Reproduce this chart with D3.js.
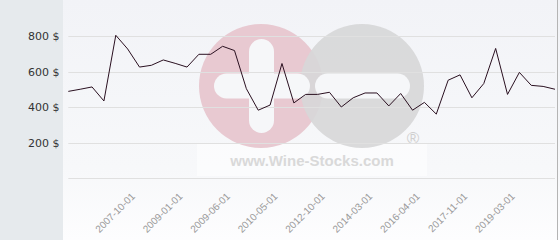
<!DOCTYPE html>
<html><head><meta charset="utf-8">
<script src="https://cdn.jsdelivr.net/npm/d3@7"></script>
<style>
html,body{margin:0;padding:0;background:#fff;}
svg{display:block;}
</style></head>
<body>
<svg id="chart" width="560" height="240"></svg>
<script>
const categories = ["2005-06-01","2005-11-01","2006-04-01","2006-09-01","2007-02-01","2007-06-01","2007-10-01","2008-01-01","2008-05-01","2008-09-01","2009-01-01","2009-02-01","2009-03-01","2009-05-01","2009-06-01","2009-09-01","2009-12-01","2010-03-01","2010-05-01","2011-01-01","2011-06-01","2012-01-01","2012-10-01","2013-02-01","2013-06-01","2013-10-01","2014-03-01","2014-09-01","2015-03-01","2015-09-01","2016-04-01","2016-09-01","2017-02-01","2017-06-01","2017-11-01","2018-03-01","2018-07-01","2018-11-01","2019-03-01","2019-07-01","2019-11-01","2020-03-01"];
const prices = [488,500,513,434,804,727,625,635,665,646,625,697,697,742,718,503,382,411,645,423,471,471,483,400,452,479,479,406,476,382,426,360,551,581,452,532,730,471,595,522,516,500];
const xTickLabels = ["2007-10-01","2009-01-01","2009-06-01","2010-05-01","2012-10-01","2014-03-01","2016-04-01","2017-11-01","2019-03-01"];
const yGridValues = [0,200,400,600,800];
const yTickLabels = [200,400,600,800];
const yDomain = [0,1000];

const svg = d3.select("#chart");
const W = 560, H = 240;
const panelX = 63, plotL = 68.3, plotR = 555, plotTop = 0.5, plotBottom = 178;

const defs = svg.append("defs");
const grad = defs.append("linearGradient").attr("id","bg").attr("x1",0).attr("y1",0).attr("x2",0).attr("y2",1);
grad.append("stop").attr("offset","0%").attr("stop-color","#f2f3f7");
grad.append("stop").attr("offset","70%").attr("stop-color","#f7f8fa");
grad.append("stop").attr("offset","100%").attr("stop-color","#fdfdfe");

svg.append("rect").attr("x",0).attr("y",0).attr("width",panelX).attr("height",H).attr("fill","#e6eaed");
svg.append("rect").attr("x",panelX).attr("y",0).attr("width",W-panelX).attr("height",H).attr("fill","url(#bg)");

// watermark
const wm = svg.append("g");
wm.append("rect").attr("x",197).attr("y",143).attr("width",230).attr("height",33).attr("fill","#ffffff").attr("opacity",0.55);
wm.append("circle").attr("cx",261).attr("cy",86).attr("r",62).attr("fill","#e8c9d1");
wm.append("circle").attr("cx",362).attr("cy",86).attr("r",62).attr("fill","#d7d7d8").attr("opacity",0.92);
const white = "#f6f7f9";
wm.append("rect").attr("x",249).attr("y",39).attr("width",25).attr("height",94).attr("rx",12.5).attr("fill",white);
wm.append("rect").attr("x",214).attr("y",73.5).attr("width",96).attr("height",25).attr("rx",12.5).attr("fill",white);
wm.append("rect").attr("x",315).attr("y",73.5).attr("width",95).attr("height",25).attr("rx",12.5).attr("fill",white);
wm.append("text").attr("x",312).attr("y",165.5).attr("text-anchor","middle")
  .attr("font-family","Liberation Sans, Arial, sans-serif").attr("font-weight","bold").attr("font-size",15)
  .attr("fill","#d9d9d9").text("www.Wine-Stocks.com");
wm.append("text").attr("x",413).attr("y",144).attr("text-anchor","middle")
  .attr("font-family","Liberation Sans, Arial, sans-serif").attr("font-size",17)
  .attr("fill","#cfcfcf").text("®");

const x = d3.scalePoint().domain(categories).range([plotL, plotR]);
const y = d3.scaleLinear().domain(yDomain).range([plotBottom, plotTop]);

// gridlines
svg.append("g").selectAll("line").data(yGridValues).join("line")
  .attr("x1",plotL).attr("x2",plotR)
  .attr("y1",d=>Math.round(y(d))+0.5).attr("y2",d=>Math.round(y(d))+0.5)
  .attr("stroke","#e0e0e0").attr("stroke-width",1);

// y axis
const yAxis = d3.axisLeft(y).tickValues(yTickLabels).tickSize(0).tickPadding(0).tickFormat(d=>d+" $");
const gy = svg.append("g").attr("transform","translate(59.5,0)").call(yAxis);
gy.select(".domain").remove();
gy.selectAll("text").attr("font-family","DejaVu Sans, sans-serif").attr("font-size",11).attr("fill","#333").attr("dy","0.35em");

// x axis
const xAxis = d3.axisBottom(x).tickValues(xTickLabels).tickSize(0).tickPadding(0);
const gx = svg.append("g").attr("transform","translate(0,0)").call(xAxis);
gx.select(".domain").remove();
gx.selectAll(".tick text")
  .attr("font-family","Liberation Sans, Arial, sans-serif").attr("font-size",10).attr("fill","#999")
  .attr("text-anchor","end").attr("y",0).attr("dy",0)
  .attr("transform",function(){ return "translate(-4.4,197) rotate(-45)"; });

// line
const line = d3.line().x((d,i)=>x(categories[i])).y(d=>y(d));
svg.append("path").datum(prices).attr("d",line).attr("fill","none")
  .attr("stroke","#2a1020").attr("stroke-width",1).attr("stroke-linejoin","miter");

// right border
svg.append("line").attr("x1",557.5).attr("x2",557.5).attr("y1",0).attr("y2",H).attr("stroke","#b4b4b4").attr("stroke-width",1);
</script>
</body></html>
